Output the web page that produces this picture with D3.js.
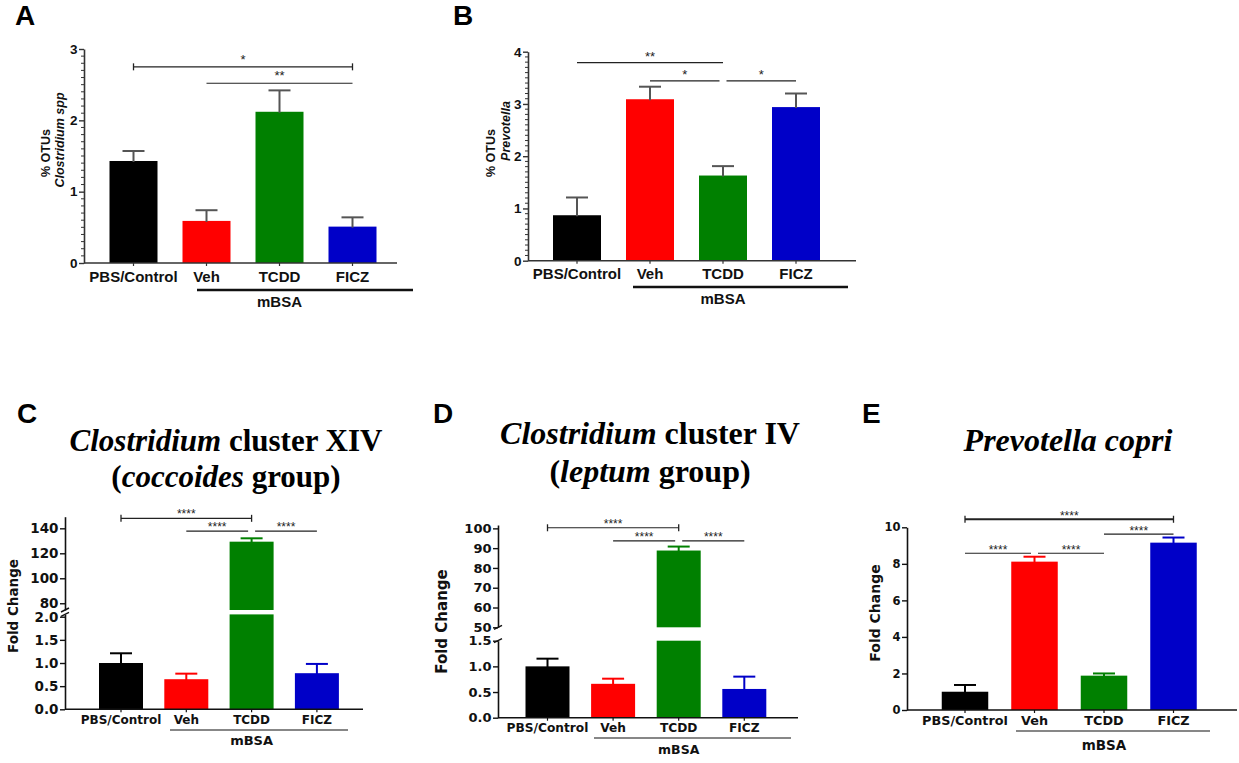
<!DOCTYPE html>
<html lang="en">
<head>
<meta charset="UTF-8">
<title>AhR ligands and gut microbiota</title>
<style>
  body { margin: 0; background: #fff; }
  svg { display: block; background: #fff; }
  .sans { font-family: "Liberation Sans", Arial, sans-serif; font-weight: bold; }
  .dv { font-family: "DejaVu Sans", sans-serif; font-weight: bold; }
  .serif { font-family: "Liberation Serif", "Times New Roman", serif; font-weight: bold; }
</style>
</head>
<body>
<svg width="1239" height="763"></svg>
<script src="https://d3js.org/d3.v7.min.js"></script>
<script>
const groups = ["PBS/Control", "Veh", "TCDD", "FICZ"];
const groupColors = ["#000000", "#ff0000", "#008000", "#0000c8"];

// % OTUs (panels A, B)
const clostridiumSpp = [1.43, 0.59, 2.12, 0.51];
const clostridiumSppSem = [0.14, 0.15, 0.30, 0.13];
const prevotella = [0.87, 3.09, 1.63, 2.94];
const prevotellaSem = [0.34, 0.24, 0.18, 0.26];

// fold change (panels C, D, E)
const coccoides = [1.0, 0.65, 129.3, 0.78];
const coccoidesSem = [0.21, 0.12, 2.7, 0.20];
const leptum = [1.0, 0.66, 88.8, 0.56];
const leptumSem = [0.15, 0.10, 2.0, 0.24];
const copri = [1.0, 8.12, 1.88, 9.16];
const copriSem = [0.37, 0.27, 0.12, 0.28];

// tick values
const ticksA = [0, 1, 2, 3];
const ticksB = [0, 1, 2, 3, 4];
const ticksCLow = [0, 0.5, 1, 1.5, 2];
const ticksCHigh = [80, 100, 120, 140];
const ticksDLow = [0, 0.5, 1, 1.5];
const ticksDHigh = [50, 60, 70, 80, 90, 100];
const ticksE = [0, 2, 4, 6, 8, 10];

// significance brackets: groups compared, value level, stars
const sigA = [
  { from: "PBS/Control", to: "FICZ", at: 2.75, label: "*", ends: true },
  { from: "Veh", to: "FICZ", at: 2.52, label: "**" }
];
const sigB = [
  { from: "PBS/Control", to: "TCDD", at: 3.79, label: "**" },
  { from: "Veh", to: "TCDD", at: 3.44, label: "*" },
  { from: "TCDD", to: "FICZ", at: 3.44, label: "*" }
];
const sigC = [
  { from: "PBS/Control", to: "TCDD", at: 148, label: "****", ends: true },
  { from: "Veh", to: "TCDD", at: 137.8, label: "****" },
  { from: "TCDD", to: "FICZ", at: 137.8, label: "****" }
];
const sigD = [
  { from: "PBS/Control", to: "TCDD", at: 100.3, label: "****", ends: true },
  { from: "Veh", to: "TCDD", at: 93.7, label: "****" },
  { from: "TCDD", to: "FICZ", at: 93.7, label: "****" }
];
const sigE = [
  { from: "PBS/Control", to: "FICZ", at: 10.44, label: "****", ends: true },
  { from: "TCDD", to: "FICZ", at: 9.63, label: "****" },
  { from: "PBS/Control", to: "Veh", at: 8.58, label: "****" },
  { from: "Veh", to: "TCDD", at: 8.58, label: "****" }
];

const svg = d3.select("svg");

const panels = [
  {
    letter: "A", lx: 15, ly: 25, values: clostridiumSpp, sem: clostridiumSppSem, sig: sigA,
    font: "sans", axisX: 84, axisEnd: 397, firstCenter: 133.5, step: 73, barW: 48,
    segments: [{ domain: [0, 3], range: [263, 49], ticks: ticksA, fmt: d3.format("d"), minor: 0.1 }],
    axisColor: "#333", tickFont: 13.5, catFont: 15, catY: 281.5,
    mbsa: { x1: 197, x2: 413, y: 290, w: 2.4, textY: 307, font: 15 },
    errColor: "#555", starFont: 13, starLift: 10, endWidth: 1.3,
    ylab: [
      { parts: [["% OTUs", false]], x: 50, y: 153, size: 12.5 },
      { parts: [["Clostridium spp", true]], x: 64, y: 140, size: 12.5 }
    ]
  },
  {
    letter: "B", lx: 453, ly: 25, values: prevotella, sem: prevotellaSem, sig: sigB,
    font: "sans", axisX: 528, axisEnd: 856, firstCenter: 577, step: 73, barW: 48,
    segments: [{ domain: [0, 4], range: [260.7, 51.7], ticks: ticksB, fmt: d3.format("d"), minor: 0.1 }],
    axisColor: "#333", tickFont: 13.5, catFont: 15, catY: 278.5,
    mbsa: { x1: 633, x2: 848, y: 287, w: 2.4, textY: 303.5, font: 15 },
    errColor: "#555", starFont: 13, starLift: 9, endWidth: 1.3,
    ylab: [
      { parts: [["% OTUs", false]], x: 495, y: 153, size: 12.5 },
      { parts: [["Prevotella", true]], x: 510, y: 131, size: 12.5 }
    ]
  },
  {
    letter: "C", lx: 17, ly: 423, values: coccoides, sem: coccoidesSem, sig: sigC,
    font: "dv", axisX: 65, axisEnd: 363, firstCenter: 121, step: 65.3, barW: 44,
    segments: [
      { domain: [0, 2.05], range: [709.3, 614.4], ticks: ticksCLow, fmt: d3.format(".1f") },
      { domain: [74.6, 149.3], range: [610, 516.7], ticks: ticksCHigh, fmt: d3.format("d") }
    ],
    axisColor: "#111", tickFont: 13.5, catFont: 12, catY: 723.5,
    mbsa: { x1: 170, x2: 348, y: 730, w: 1.2, textY: 745, font: 13 },
    errColor: null, starFont: 12, starLift: 6.5, endWidth: 1.2,
    title: [[["Clostridium", true], [" cluster XIV", false]], [["(", false], ["coccoides", true], [" group)", false]]],
    titleX: 226, titleY: [451, 487], titleSize: 31,
    ylab: [{ parts: [["Fold Change", false]], x: 18, y: 606, size: 13.5 }]
  },
  {
    letter: "D", lx: 433, ly: 423, values: leptum, sem: leptumSem, sig: sigD,
    font: "dv", axisX: 498, axisEnd: 798, firstCenter: 547.5, step: 65.6, barW: 44,
    segments: [
      { domain: [0, 1.5], range: [717.7, 640.7], ticks: ticksDLow, fmt: d3.format(".1f") },
      { domain: [50, 101.7], range: [627.3, 525], ticks: ticksDHigh, fmt: d3.format("d") }
    ],
    axisColor: "#111", tickFont: 13, catFont: 12.2, catY: 731.5,
    mbsa: { x1: 594, x2: 791, y: 738, w: 1.2, textY: 753.5, font: 12.5 },
    errColor: null, starFont: 12, starLift: 6, endWidth: 1.2,
    title: [[["Clostridium", true], [" cluster IV", false]], [["(", false], ["leptum", true], [" group)", false]]],
    titleX: 650, titleY: [443.5, 481.5], titleSize: 32,
    ylab: [{ parts: [["Fold Change", false]], x: 447, y: 621.5, size: 15 }]
  },
  {
    letter: "E", lx: 862, ly: 423, values: copri, sem: copriSem, sig: sigE,
    font: "dv", axisX: 907, axisEnd: 1237, firstCenter: 965, step: 69.5, barW: 46.5,
    segments: [{ domain: [0, 10], range: [710, 527.3], ticks: ticksE, fmt: d3.format("d") }],
    axisColor: "#111", tickFont: 11.5, catFont: 12.8, catY: 725,
    mbsa: { x1: 1016, x2: 1210, y: 731, w: 1.2, textY: 750, font: 13.5 },
    errColor: null, starFont: 12, starLift: 6, endWidth: 2.2,
    title: [[["Prevotella copri", true]]],
    titleX: 1068, titleY: [451], titleSize: 32,
    ylab: [{ parts: [["Fold Change", false]], x: 880, y: 613, size: 14 }]
  }
];

function segmentFor(segs, v) {
  return segs.find(s => v >= s.domain[0] && v <= s.domain[1]) || segs[segs.length - 1];
}

function drawPanel(p) {
  const g = svg.append("g").attr("class", p.font);

  // panel letter
  svg.append("text").attr("class", "sans")
    .attr("x", p.lx).attr("y", p.ly)
    .style("font-size", "28px")
    .text(p.letter);

  // title
  if (p.title) {
    p.title.forEach((line, i) => {
      const t = svg.append("text").attr("class", "serif")
        .attr("x", p.titleX).attr("y", p.titleY[i])
        .attr("text-anchor", "middle")
        .style("font-size", p.titleSize + "px");
      line.forEach(([txt, it]) => {
        t.append("tspan").style("font-style", it ? "italic" : "normal").text(txt);
      });
    });
  }

  // x band scale
  const pad = 1 - p.barW / p.step;
  const r0 = p.firstCenter - p.barW / 2 - pad * p.step;
  const x = d3.scaleBand().domain(groups)
    .range([r0, r0 + p.step * (groups.length + pad)])
    .padding(pad);
  const cx = d => x(d) + x.bandwidth() / 2;

  // y segments
  p.segments.forEach(s => { s.y = d3.scaleLinear().domain(s.domain).range(s.range); });
  const baseY = p.segments[0].range[0];

  // bars
  groups.forEach((gr, i) => {
    const v = p.values[i];
    p.segments.forEach((s, k) => {
      const lo = k === 0 ? 0 : s.domain[0];
      if (v <= lo) return;
      const hi = Math.min(v, s.domain[1]);
      g.append("rect")
        .attr("x", x(gr)).attr("width", x.bandwidth())
        .attr("y", s.y(hi)).attr("height", s.y(lo) - s.y(hi))
        .attr("fill", groupColors[i]);
    });
    // error bar (upper only)
    const s = segmentFor(p.segments, v);
    const col = p.errColor || groupColors[i];
    const top = s.y(v + p.sem[i]);
    g.append("line")
      .attr("x1", cx(gr)).attr("x2", cx(gr))
      .attr("y1", s.y(v) + 1).attr("y2", top)
      .attr("stroke", col).attr("stroke-width", 2);
    g.append("line")
      .attr("x1", cx(gr) - 11).attr("x2", cx(gr) + 11)
      .attr("y1", top).attr("y2", top)
      .attr("stroke", col).attr("stroke-width", 2);
  });

  // y axes
  p.segments.forEach((s, k) => {
    const ax = g.append("g")
      .attr("transform", `translate(${p.axisX},0)`)
      .call(d3.axisLeft(s.y).tickValues(s.ticks).tickFormat(s.fmt)
        .tickSize(5).tickSizeOuter(0).tickPadding(1.5));
    ax.select(".domain").attr("stroke", p.axisColor).attr("stroke-width", 1.6);
    ax.selectAll(".tick line").attr("stroke", p.axisColor).attr("stroke-width", 1.4);
    ax.selectAll(".tick text")
      .attr("fill", "#111")
      .style("font-size", p.tickFont + "px")
      .style("font-family", null);
    ax.attr("font-family", null).attr("font-size", null);

    if (s.minor) {
      const minors = d3.range(s.domain[0], s.domain[1] + 1e-9, s.minor)
        .filter(v => !s.ticks.some(t => Math.abs(t - v) < 1e-6));
      g.selectAll(null).data(minors).join("line")
        .attr("x1", p.axisX - 3).attr("x2", p.axisX)
        .attr("y1", v => s.y(v)).attr("y2", v => s.y(v))
        .attr("stroke", p.axisColor).attr("stroke-width", 1);
    }

    // break marks
    if (p.segments.length > 1) {
      const edge = k === 0 ? s.range[1] : s.range[0];
      g.append("line")
        .attr("x1", p.axisX - 4).attr("x2", p.axisX + 4)
        .attr("y1", edge + 2).attr("y2", edge - 2)
        .attr("stroke", p.axisColor).attr("stroke-width", 1.4);
    }
  });

  // x axis line with small ticks at the groups
  g.append("line")
    .attr("x1", p.axisX).attr("x2", p.axisEnd)
    .attr("y1", baseY).attr("y2", baseY)
    .attr("stroke", p.axisColor).attr("stroke-width", 1.6);
  g.selectAll(null).data(groups).join("line")
    .attr("x1", d => cx(d)).attr("x2", d => cx(d))
    .attr("y1", baseY).attr("y2", baseY + 3)
    .attr("stroke", p.axisColor).attr("stroke-width", 1.2);

  // category labels
  g.selectAll(null).data(groups).join("text")
    .attr("x", d => cx(d)).attr("y", p.catY)
    .attr("text-anchor", "middle")
    .attr("fill", "#111")
    .style("font-size", p.catFont + "px")
    .text(d => d);

  // mBSA bar
  g.append("line")
    .attr("x1", p.mbsa.x1).attr("x2", p.mbsa.x2)
    .attr("y1", p.mbsa.y).attr("y2", p.mbsa.y)
    .attr("stroke", "#111").attr("stroke-width", p.mbsa.w);
  g.append("text")
    .attr("x", cx("TCDD")).attr("y", p.mbsa.textY)
    .attr("text-anchor", "middle").attr("fill", "#111")
    .style("font-size", p.mbsa.font + "px")
    .text("mBSA");

  // y axis title
  p.ylab.forEach(l => {
    const t = g.append("text")
      .attr("transform", `translate(${l.x},${l.y}) rotate(-90)`)
      .attr("text-anchor", "middle").attr("fill", "#111")
      .style("font-size", l.size + "px");
    l.parts.forEach(([txt, it]) => {
      t.append("tspan").style("font-style", it ? "italic" : "normal").text(txt);
    });
  });

  // significance brackets
  p.sig.forEach(b => {
    const s = segmentFor(p.segments, b.at);
    const yy = s.y(b.at);
    const shares = name => p.sig.some(o => o !== b && o.at === b.at && (o.from === name || o.to === name));
    const x1 = cx(b.from) + (shares(b.from) ? 3.5 : 0);
    const x2 = cx(b.to) - (shares(b.to) ? 3.5 : 0);
    const w = b.ends ? p.endWidth : 1.2;
    g.append("line")
      .attr("x1", x1).attr("x2", x2).attr("y1", yy).attr("y2", yy)
      .attr("stroke", "#222").attr("stroke-width", w);
    if (b.ends) {
      [x1, x2].forEach(xe => {
        g.append("line")
          .attr("x1", xe).attr("x2", xe).attr("y1", yy - 3.5).attr("y2", yy + 3.5)
          .attr("stroke", "#222").attr("stroke-width", 1.3);
      });
    }
    g.append("text")
      .attr("class", "sans")
      .attr("x", (x1 + x2) / 2)
      .attr("y", yy - p.starLift + 0.55 * p.starFont)
      .attr("text-anchor", "middle").attr("fill", "#222")
      .style("font-weight", "normal")
      .style("font-size", p.starFont + "px")
      .text(b.label);
  });
}

panels.forEach(drawPanel);
</script>
</body>
</html>
